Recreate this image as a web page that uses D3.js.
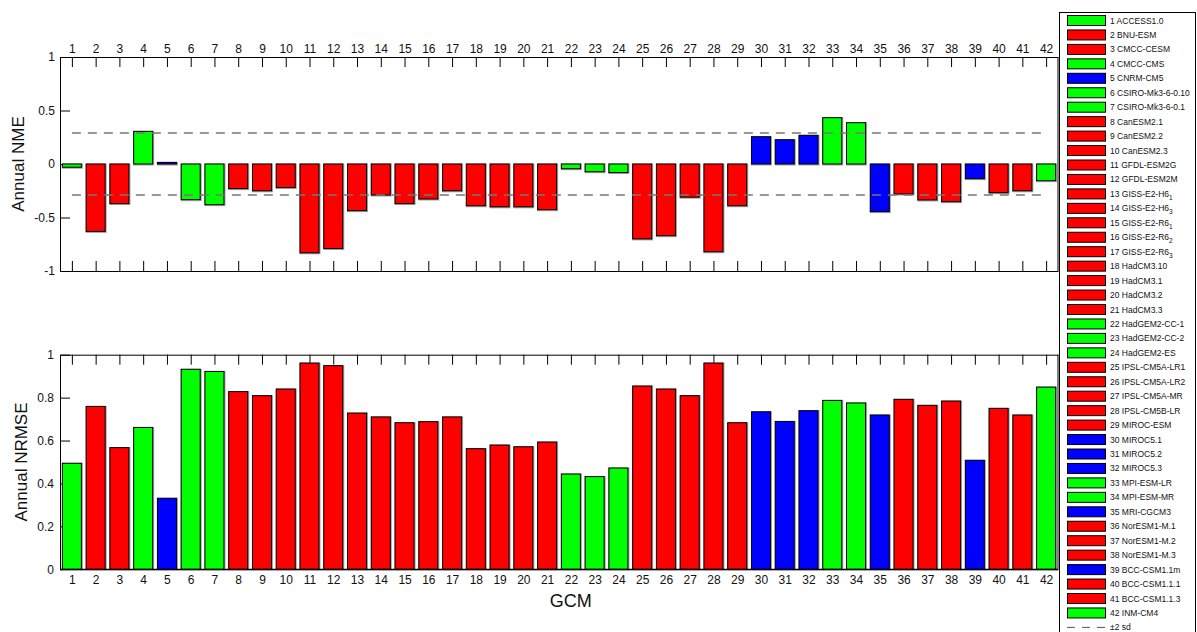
<!DOCTYPE html>
<html>
<head>
<meta charset="utf-8">
<script src="https://cdn.jsdelivr.net/npm/d3@7"></script>
<style>
  html, body { margin: 0; padding: 0; background: #fff; }
  svg { display: block; font-family: "Liberation Sans", Arial, sans-serif; }
  .axis path, .axis line { stroke: #000; }
  .axis text { fill: #111; font-size: 12px; font-family: "Liberation Sans", Arial, sans-serif; }
</style>
</head>
<body>
<svg id="chart" width="1197" height="632"></svg>
<script>
// GCM identifiers (x categories) and names shown in the legend
const gcmIds = d3.range(1, 43);
const gcmNames = [
  "ACCESS1.0", "BNU-ESM", "CMCC-CESM", "CMCC-CMS", "CNRM-CM5",
  "CSIRO-Mk3-6-0.10", "CSIRO-Mk3-6-0.1", "CanESM2.1", "CanESM2.2", "CanESM2.3",
  "GFDL-ESM2G", "GFDL-ESM2M", "GISS-E2-H6", "GISS-E2-H6", "GISS-E2-R6",
  "GISS-E2-R6", "GISS-E2-R6", "HadCM3.10", "HadCM3.1", "HadCM3.2",
  "HadCM3.3", "HadGEM2-CC-1", "HadGEM2-CC-2", "HadGEM2-ES", "IPSL-CM5A-LR1",
  "IPSL-CM5A-LR2", "IPSL-CM5A-MR", "IPSL-CM5B-LR", "MIROC-ESM", "MIROC5.1",
  "MIROC5.2", "MIROC5.3", "MPI-ESM-LR", "MPI-ESM-MR", "MRI-CGCM3",
  "NorESM1-M.1", "NorESM1-M.2", "NorESM1-M.3", "BCC-CSM1.1m", "BCC-CSM1.1.1",
  "BCC-CSM1.1.3", "INM-CM4"
];
// subscript suffix of each name ("" when none)
const gcmSubscripts = [
  "", "", "", "", "", "", "", "", "", "",
  "", "", "1", "3", "1", "2", "3", "", "", "",
  "", "", "", "", "", "", "", "", "", "",
  "", "", "", "", "", "", "", "", "", "",
  "", ""
];
// group of each GCM (1, 2 or 3)
const gcmGroup = [
  1, 2, 2, 1, 3, 1, 1, 2, 2, 2,
  2, 2, 2, 2, 2, 2, 2, 2, 2, 2,
  2, 1, 1, 1, 2, 2, 2, 2, 2, 3,
  3, 3, 1, 1, 3, 2, 2, 2, 3, 2,
  2, 1
];
// Annual normalised mean error
const nme = [
  -0.03, -0.63, -0.37, 0.305, 0.015, -0.333, -0.38, -0.23, -0.25, -0.22,
  -0.83, -0.79, -0.436, -0.29, -0.37, -0.327, -0.25, -0.39, -0.40, -0.40,
  -0.427, -0.044, -0.072, -0.08, -0.70, -0.67, -0.31, -0.82, -0.39, 0.255,
  0.227, 0.268, 0.433, 0.386, -0.445, -0.28, -0.336, -0.352, -0.137, -0.268,
  -0.25, -0.156
];
// Annual normalised root mean square error
const nrmse = [
  0.494, 0.759, 0.567, 0.661, 0.331, 0.932, 0.922, 0.828, 0.809, 0.840,
  0.961, 0.949, 0.728, 0.710, 0.683, 0.688, 0.710, 0.562, 0.579, 0.571,
  0.593, 0.444, 0.432, 0.472, 0.854, 0.840, 0.809, 0.961, 0.683, 0.734,
  0.689, 0.739, 0.787, 0.775, 0.719, 0.792, 0.764, 0.784, 0.508, 0.750,
  0.719, 0.849
];
// ±2 sd band for NME
const sdBand = [-0.29, 0.29];
const nmeTicks = [-1, -0.5, 0, 0.5, 1];
const nrmseTicks = [0, 0.2, 0.4, 0.6, 0.8, 1];

const svg = d3.select("#chart");
const color = d3.scaleOrdinal().domain([1, 2, 3]).range(["#00ff00", "#ff0000", "#0000ff"]);

const left = 60, right = 1058;
const x = d3.scaleLinear().domain([0.5, 42.5]).range([left, right]);
const barW = (x(2) - x(1)) * 0.8;

const rows = gcmIds.map((id, i) => ({
  id, name: gcmNames[i], sub: gcmSubscripts[i], group: gcmGroup[i],
  nme: nme[i], nrmse: nrmse[i]
}));

function drawBars(g, y, key) {
  const bars = g.append("g");
  // soft grey edge around each bar
  bars.selectAll("rect.shade").data(rows).join("rect")
    .attr("class", "shade")
    .attr("x", d => x(d.id) - barW / 2 - 0.5)
    .attr("y", d => Math.min(y(d[key]), y(0)) - 0.5)
    .attr("width", barW + 2)
    .attr("height", d => Math.abs(y(d[key]) - y(0)) + 2)
    .attr("fill", "#a0a0a0");
  bars.selectAll("rect.bar").data(rows).join("rect")
    .attr("class", "bar")
    .attr("x", d => x(d.id) - barW / 2)
    .attr("y", d => Math.min(y(d[key]), y(0)))
    .attr("width", barW)
    .attr("height", d => Math.abs(y(d[key]) - y(0)))
    .attr("fill", d => color(d.group))
    .attr("stroke", "#000")
    .attr("stroke-width", 1);
}

// ---- Top panel: Annual NME ----
const yT = d3.scaleLinear().domain([-1, 1]).range([271, 57]);
const nmePanel = svg.append("g");

nmePanel.append("g").attr("class", "axis").attr("transform", `translate(0,${yT(1)})`)
  .call(d3.axisTop(x).tickValues(gcmIds).tickSize(-10).tickSizeOuter(0).tickPadding(4));
nmePanel.append("g").attr("class", "axis").attr("transform", `translate(0,${yT(-1)})`)
  .call(d3.axisBottom(x).tickValues(gcmIds).tickSize(-10).tickSizeOuter(0).tickFormat(""));
nmePanel.append("g").attr("class", "axis").attr("transform", `translate(${left},0)`)
  .call(d3.axisLeft(yT).tickValues(nmeTicks).tickSize(-10).tickSizeOuter(0).tickPadding(5)
    .tickFormat(d => String(d)));
nmePanel.append("line").attr("x1", right).attr("x2", right).attr("y1", yT(1)).attr("y2", yT(-1))
  .attr("stroke", "#000");

drawBars(nmePanel, yT, "nme");

nmePanel.selectAll("line.sd").data(sdBand).join("line")
  .attr("class", "sd")
  .attr("x1", x(1)).attr("x2", x(42))
  .attr("y1", d => yT(d)).attr("y2", d => yT(d))
  .attr("stroke", "#777").attr("stroke-width", 1.4)
  .attr("stroke-dasharray", "9,7");

nmePanel.append("text")
  .attr("transform", `translate(24,${yT(0)}) rotate(-90)`)
  .attr("text-anchor", "middle")
  .attr("font-size", 17).attr("fill", "#111")
  .text("Annual NME");

// ---- Bottom panel: Annual NRMSE ----
const yB = d3.scaleLinear().domain([0, 1]).range([569.3, 354.7]);
const nrmsePanel = svg.append("g");

nrmsePanel.append("g").attr("class", "axis").attr("transform", `translate(0,${yB(1)})`)
  .call(d3.axisTop(x).tickValues(gcmIds).tickSize(-10).tickSizeOuter(0).tickFormat(""));
nrmsePanel.append("g").attr("class", "axis").attr("transform", `translate(0,${yB(0)})`)
  .call(d3.axisBottom(x).tickValues(gcmIds).tickSize(-10).tickSizeOuter(0).tickPadding(6));
nrmsePanel.append("g").attr("class", "axis").attr("transform", `translate(${left},0)`)
  .call(d3.axisLeft(yB).tickValues(nrmseTicks).tickSize(-10).tickSizeOuter(0).tickPadding(6)
    .tickFormat(d => String(d)));
nrmsePanel.append("line").attr("x1", right).attr("x2", right).attr("y1", yB(1)).attr("y2", yB(0))
  .attr("stroke", "#000");

drawBars(nrmsePanel, yB, "nrmse");

// redraw the x axis line over the bar bases
nrmsePanel.append("line").attr("x1", left).attr("x2", right).attr("y1", yB(0)).attr("y2", yB(0))
  .attr("stroke", "#000").attr("stroke-width", 1.2);

nrmsePanel.append("text")
  .attr("transform", `translate(27,${(yB(0) + yB(1)) / 2}) rotate(-90)`)
  .attr("text-anchor", "middle")
  .attr("font-size", 17).attr("fill", "#111")
  .text("Annual NRMSE");

nrmsePanel.append("text")
  .attr("x", (x(22) + x(23)) / 2 - 12).attr("y", 607)
  .attr("text-anchor", "middle")
  .attr("font-size", 18).attr("fill", "#111")
  .text("GCM");

// ---- Legend ----
const leg = svg.append("g");
leg.append("rect")
  .attr("x", 1059.5).attr("y", 12.5).attr("width", 136).attr("height", 640)
  .attr("fill", "#fff").attr("stroke", "#000").attr("stroke-width", 1);

const rowY = i => 20.5 + i * 14.45;
const items = leg.selectAll("g.item").data(rows).join("g")
  .attr("class", "item")
  .attr("transform", (d, i) => `translate(0,${rowY(i)})`);
items.append("rect")
  .attr("x", 1067.5).attr("y", -5).attr("width", 38).attr("height", 10)
  .attr("fill", d => color(d.group))
  .attr("stroke", "#000").attr("stroke-width", 1);
const labels = items.append("text")
  .attr("x", 1110).attr("y", 3)
  .attr("font-size", 8.5).attr("fill", "#111");
labels.append("tspan").text(d => `${d.id} ${d.name}`);
labels.filter(d => d.sub).append("tspan")
  .attr("dy", 3).attr("font-size", 6.5).text(d => d.sub);

const sdRow = leg.append("g").attr("transform", `translate(0,${rowY(42)})`);
sdRow.append("line")
  .attr("x1", 1067).attr("x2", 1105).attr("y1", 0).attr("y2", 0)
  .attr("stroke", "#555").attr("stroke-width", 1).attr("stroke-dasharray", "8,7");
sdRow.append("text").attr("x", 1110).attr("y", 3)
  .attr("font-size", 8.5).attr("fill", "#111").text("±2 sd");
</script>
</body>
</html>
